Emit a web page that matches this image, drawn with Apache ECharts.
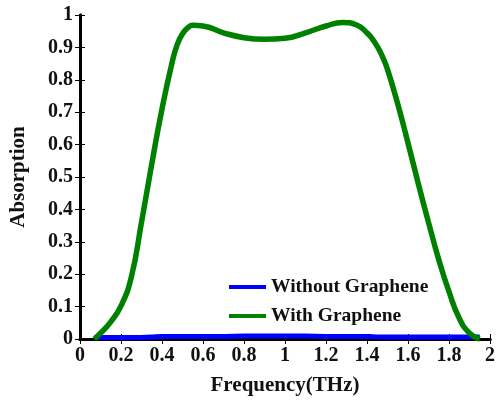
<!DOCTYPE html>
<html>
<head>
<meta charset="utf-8">
<script src="https://cdn.jsdelivr.net/npm/echarts@6/dist/echarts.min.js"></script>
<style>
html, body { margin: 0; padding: 0; background: #fff; }
#main { width: 496px; height: 400px; }
</style>
</head>
<body>
<div id="main"></div>
<script>
// 频率 (THz)
var freq = [0.07, 0.1, 0.15, 0.2, 0.25, 0.3, 0.35, 0.4, 0.45, 0.475, 0.5, 0.525, 0.55, 0.6, 0.7, 0.8, 0.9, 1.0,
            1.1, 1.2, 1.28, 1.35, 1.4, 1.425, 1.45, 1.475, 1.5, 1.55, 1.6, 1.65, 1.7, 1.75, 1.8, 1.85, 1.9, 1.95];
// 有石墨烯
var withG = [0.0, 0.018, 0.053, 0.102, 0.19, 0.36, 0.54, 0.71, 0.855, 0.91, 0.942, 0.96, 0.968, 0.966, 0.945, 0.93, 0.925, 0.928,
             0.945, 0.966, 0.977, 0.969, 0.945, 0.927, 0.903, 0.872, 0.832, 0.725, 0.605, 0.48, 0.36, 0.245, 0.146, 0.064, 0.018, 0.0];
// 无石墨烯
var withoutG = [0.005, 0.005, 0.005, 0.005, 0.005, 0.005, 0.006, 0.008, 0.008, 0.008, 0.008, 0.008, 0.008, 0.008, 0.008, 0.009, 0.009, 0.009,
                0.009, 0.008, 0.008, 0.008, 0.008, 0.007, 0.006, 0.006, 0.006, 0.006, 0.006, 0.006, 0.006, 0.006, 0.006, 0.006, 0.006, 0.006];
var seriesNames = ['Without Graphene', 'With Graphene'];

function pairs(xs, ys) {
    var out = [];
    for (var i = 0; i < xs.length; i++) out.push([xs[i], ys[i]]);
    return out;
}

var font = '"Liberation Serif", "Times New Roman", serif';
var myChart = echarts.init(document.getElementById('main'));

var axisLine = { show: true, lineStyle: { color: '#000', width: 3 } };
var axisTick = { show: true, inside: true, length: 5, lineStyle: { color: '#000', width: 1 } };

var option = {
    animation: false,
    grid: { left: 80, right: 6, top: 15, bottom: 61, containLabel: false, outerBoundsMode: 'none' },
    legend: {
        data: seriesNames,
        orient: 'vertical',
        left: 224,
        top: 272,
        itemGap: 9,
        itemWidth: 37,
        itemHeight: 4,
        icon: 'rect',
        textStyle: { fontFamily: font, fontWeight: 'bold', fontSize: 19.5, color: '#111' }
    },
    xAxis: [{
        type: 'value', min: 0, max: 2, interval: 0.2,
        name: 'Frequency(THz)', nameLocation: 'middle', nameGap: 36,
        nameTextStyle: { fontFamily: font, fontWeight: 'bold', fontSize: 21, color: '#111' },
        axisLine: axisLine, axisTick: axisTick, splitLine: { show: false },
        axisLabel: { fontFamily: font, fontWeight: 'bold', fontSize: 20, color: '#111', margin: 7 }
    }, {
        type: 'value', position: 'top', min: 0, max: 2, interval: 0.2,
        axisLine: axisLine, axisTick: axisTick, splitLine: { show: false },
        axisLabel: { show: false }
    }],
    yAxis: [{
        type: 'value', min: 0, max: 1, interval: 0.1,
        name: 'Absorption', nameLocation: 'middle', nameGap: 51,
        nameTextStyle: { fontFamily: font, fontWeight: 'bold', fontSize: 21, color: '#111' },
        axisLine: axisLine, axisTick: axisTick, splitLine: { show: false },
        axisLabel: { fontFamily: font, fontWeight: 'bold', fontSize: 20, color: '#111', margin: 7 }
    }, {
        type: 'value', position: 'right', min: 0, max: 1, interval: 0.1,
        axisLine: axisLine, axisTick: axisTick, splitLine: { show: false },
        axisLabel: { show: false }
    }],
    series: [{
        type: 'line', name: seriesNames[0],
        data: pairs(freq, withoutG),
        symbol: 'none', smooth: 0.3, clip: false,
        itemStyle: { color: '#0000ff' },
        lineStyle: { color: '#0000ff', width: 5 }
    }, {
        type: 'line', name: seriesNames[1],
        data: pairs(freq, withG),
        symbol: 'none', smooth: 0.5, clip: false,
        itemStyle: { color: '#008000' },
        lineStyle: { color: '#008000', width: 5.5 }
    }]
};
myChart.setOption(option);
</script>
</body>
</html>
